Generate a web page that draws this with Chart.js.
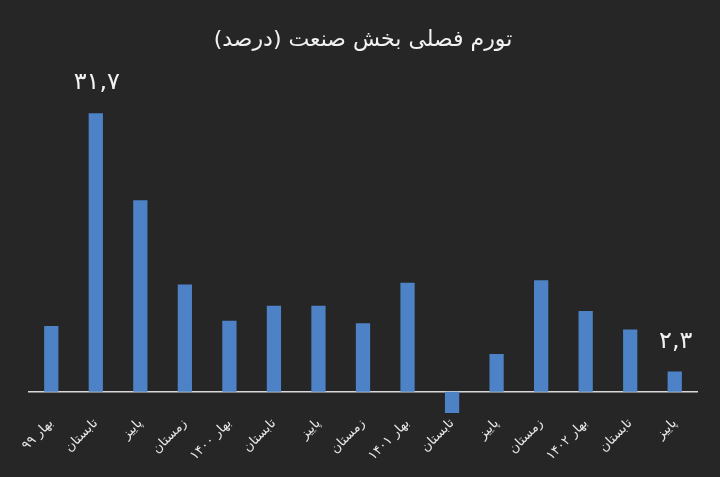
<!DOCTYPE html>
<html>
<head>
<meta charset="utf-8">
<script src="https://cdn.jsdelivr.net/npm/chart.js@4/dist/chart.umd.min.js"></script>
<style>
  html, body { margin: 0; padding: 0; background: #262626; }
  #wrap { width: 720px; height: 477px; }
</style>
</head>
<body>
<div id="wrap">
  <canvas id="industry-bar-chart" dir="rtl" width="720" height="477"></canvas>
</div>
<script>
const quarters = [
  "بهار ۹۹", "تابستان", "پاییز", "زمستان",
  "بهار ۱۴۰۰", "تابستان", "پاییز", "زمستان",
  "بهار ۱۴۰۱", "تابستان", "پاییز", "زمستان",
  "بهار ۱۴۰۲", "تابستان", "پاییز",
];
const inflation = [7.5, 31.7, 21.8, 12.2, 8.1, 9.8, 9.8, 7.8, 12.4, -2.4, 4.3, 12.7, 9.2, 7.1, 2.3];
// only the max and the last bar carry a label in the original
const barLabels = ["", "۳۱,۷", "", "", "", "", "", "", "", "", "", "", "", "", "۲,۳"];

const fontFamily = "'DejaVu Sans', 'Noto Sans', sans-serif";

// draws the two value labels above their bars
const valueLabels = {
  id: "valueLabels",
  afterDatasetsDraw(chart) {
    const ctx = chart.ctx;
    const meta = chart.getDatasetMeta(0);
    ctx.save();
    ctx.fillStyle = "#f2f2f2";
    ctx.font = "24px " + fontFamily;
    ctx.textAlign = "center";
    ctx.textBaseline = "bottom";
    meta.data.forEach((bar, i) => {
      if (!barLabels[i]) return;
      ctx.fillText(barLabels[i], bar.x + 1, bar.y - 18);
    });
    ctx.restore();
  },
};

var config = {
  type: "bar",
  data: {
    labels: quarters,
    datasets: [
      {
        label: "تورم فصلی",
        data: inflation,
        backgroundColor: "#4d82c6",
        barPercentage: 0.32,
        categoryPercentage: 1,
      },
    ],
  },
  options: {
    responsive: false,
    animation: false,
    layout: { padding: { left: 29, right: 23, top: 0, bottom: 50 } },
    plugins: {
      legend: { display: false },
      tooltip: { enabled: false },
      title: {
        display: true,
        text: "تورم فصلی بخش صنعت (درصد)",
        color: "#f2f2f2",
        font: { family: fontFamily, size: 22, weight: "normal" },
        padding: { top: 27, bottom: 22 },
      },
    },
    scales: {
      x: {
        position: { y: 0 },
        grid: { display: false },
        border: { display: true, color: "#d9d9d9", width: 1.5 },
        ticks: {
          color: "#e6e6e6",
          font: { family: fontFamily, size: 13 },
          minRotation: 45,
          maxRotation: 45,
          padding: 16,
          autoSkip: false,
        },
      },
      y: {
        display: false,
        min: -4,
        max: 36,
      },
    },
  },
  plugins: [valueLabels],
};

var ctx = document.getElementById("industry-bar-chart").getContext("2d");
window.myBar = new Chart(ctx, config);
</script>
</body>
</html>
